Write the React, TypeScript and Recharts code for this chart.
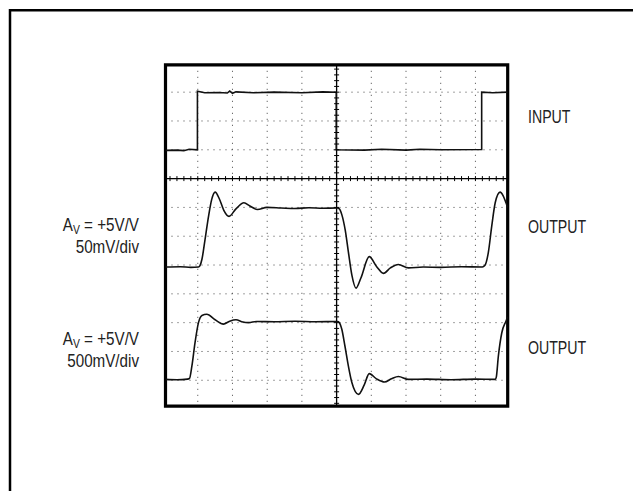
import React from 'react';
import {
  ComposedChart,
  Line,
  XAxis,
  YAxis,
  CartesianGrid,
  ReferenceLine,
  ReferenceArea,
  Scatter,
} from 'recharts';

// Screen divisions: time (horizontal, 10 div) and amplitude (vertical, 12 div)
const xDomain: [number, number] = [0.07, 9.93];
const yDomain: [number, number] = [0.1, 11.95];
const gridX = [1, 2, 3, 4, 5, 6, 7, 8, 9];
const gridY = [1, 2, 3, 4, 5, 6, 7, 8, 9, 10, 11];
const centerX = 5;
const centerY = 8;

// INPUT trace (divisions)
const inputTrace = [
  { t: 0.07, v: 8.98 }, { t: 0.4, v: 8.99 }, { t: 0.6, v: 8.97 }, { t: 0.75, v: 9.02 }, { t: 0.99, v: 9.0 },
  { t: 0.99, v: 11.03 }, { t: 1.2, v: 10.98 }, { t: 1.6, v: 10.99 }, { t: 1.85, v: 10.97 }, { t: 1.92, v: 11.04 },
  { t: 2.0, v: 10.96 }, { t: 2.1, v: 11.01 }, { t: 2.6, v: 10.98 }, { t: 3.2, v: 11.0 }, { t: 4.0, v: 10.98 },
  { t: 4.6, v: 11.01 }, { t: 4.99, v: 11.0 },
  { t: 4.99, v: 9.0 }, { t: 5.8, v: 8.99 }, { t: 6.3, v: 9.02 }, { t: 7.0, v: 8.99 }, { t: 7.4, v: 9.02 },
  { t: 8.0, v: 9.0 }, { t: 9.18, v: 9.01 },
  { t: 9.18, v: 11.0 }, { t: 9.5, v: 10.98 }, { t: 9.93, v: 11.0 },
];

// OUTPUT, 50mV/div
const output50mV = [
  { t: 0.07, v: 4.93 }, { t: 0.5, v: 4.94 }, { t: 0.8, v: 4.92 }, { t: 1.02, v: 4.93 },
  { t: 1.06, v: 4.97 }, { t: 1.12, v: 5.2 }, { t: 1.21, v: 5.89 }, { t: 1.31, v: 6.69 }, { t: 1.4, v: 7.27 },
  { t: 1.5, v: 7.53 }, { t: 1.62, v: 7.3 }, { t: 1.75, v: 6.9 }, { t: 1.9, v: 6.69 }, { t: 2.1, v: 6.95 },
  { t: 2.33, v: 7.16 }, { t: 2.5, v: 7.05 }, { t: 2.72, v: 6.93 }, { t: 2.99, v: 7.0 }, { t: 3.4, v: 6.98 },
  { t: 3.8, v: 6.96 }, { t: 4.2, v: 6.99 }, { t: 4.6, v: 6.97 }, { t: 5.02, v: 6.98 },
  { t: 5.08, v: 6.95 }, { t: 5.15, v: 6.75 }, { t: 5.25, v: 6.2 }, { t: 5.34, v: 5.45 }, { t: 5.44, v: 4.65 },
  { t: 5.56, v: 4.2 }, { t: 5.7, v: 4.55 }, { t: 5.94, v: 5.29 }, { t: 6.15, v: 4.95 }, { t: 6.35, v: 4.71 },
  { t: 6.55, v: 4.9 }, { t: 6.78, v: 5.02 }, { t: 7.07, v: 4.9 }, { t: 7.5, v: 4.93 }, { t: 8.0, v: 4.92 },
  { t: 8.6, v: 4.94 }, { t: 9.2, v: 4.93 },
  { t: 9.27, v: 4.98 }, { t: 9.37, v: 5.42 }, { t: 9.47, v: 6.35 }, { t: 9.57, v: 7.16 }, { t: 9.71, v: 7.53 },
  { t: 9.8, v: 7.4 }, { t: 9.88, v: 7.16 }, { t: 9.93, v: 7.0 },
];

// OUTPUT, 500mV/div
const output500mV = [
  { t: 0.07, v: 1.03 }, { t: 0.4, v: 1.02 }, { t: 0.7, v: 1.04 },
  { t: 0.76, v: 1.06 }, { t: 0.83, v: 1.49 }, { t: 0.92, v: 2.3 }, { t: 1.02, v: 3.0 }, { t: 1.12, v: 3.25 },
  { t: 1.26, v: 3.29 }, { t: 1.5, v: 3.1 }, { t: 1.74, v: 2.95 }, { t: 1.92, v: 3.05 }, { t: 2.1, v: 3.1 },
  { t: 2.3, v: 3.02 }, { t: 2.46, v: 3.0 }, { t: 2.7, v: 3.04 }, { t: 3.2, v: 3.03 }, { t: 3.8, v: 3.05 },
  { t: 4.4, v: 3.03 }, { t: 5.03, v: 3.04 },
  { t: 5.08, v: 3.0 }, { t: 5.15, v: 2.77 }, { t: 5.24, v: 2.19 }, { t: 5.34, v: 1.49 }, { t: 5.44, v: 0.92 },
  { t: 5.63, v: 0.51 }, { t: 5.8, v: 0.85 }, { t: 5.94, v: 1.23 }, { t: 6.15, v: 1.05 }, { t: 6.38, v: 0.94 },
  { t: 6.58, v: 1.05 }, { t: 6.78, v: 1.13 }, { t: 7.07, v: 1.03 }, { t: 7.6, v: 1.04 }, { t: 8.3, v: 1.02 },
  { t: 9.0, v: 1.04 }, { t: 9.57, v: 1.03 },
  { t: 9.6, v: 1.1 }, { t: 9.66, v: 1.83 }, { t: 9.76, v: 2.65 }, { t: 9.88, v: 3.05 }, { t: 9.93, v: 3.2 },
];

// minor graticule ticks on the centre axes (5 per division)
const hTicks = Array.from({ length: 49 }, (_, i) => ({ t: (i + 1) * 0.2, v: centerY }));
const vTicks = Array.from({ length: 59 }, (_, i) => ({ t: centerX, v: (i + 1) * 0.2 }));

const FONT = '"Liberation Sans", Arial, sans-serif';

const HTick = (p: any) => (
  <line x1={p.cx} x2={p.cx} y1={p.cy - 2.5} y2={p.cy + 2.5} stroke="#000" strokeWidth={1} />
);
const VTick = (p: any) => (
  <line x1={p.cx - 2.5} x2={p.cx + 2.5} y1={p.cy} y2={p.cy} stroke="#000" strokeWidth={1} />
);

const Txt = ({ x, y, s, anchor = 'start', children }: any) => (
  <text
    transform={`translate(${x},${y}) scale(${s},1)`}
    x={0}
    y={0}
    textAnchor={anchor}
    fontFamily={FONT}
    fontSize={19}
    fill="#222"
  >
    {children}
  </text>
);

const GainLabel = ({ y, scale }: { y: number; scale: string }) => (
  <>
    <Txt x={139} y={y} s={0.8} anchor="end">
      A<tspan fontSize={13} dy={2.5}>V</tspan>
      <tspan dy={-2.5}> = +5V/V</tspan>
    </Txt>
    <Txt x={139} y={y + 22} s={0.8} anchor="end">
      {scale}
    </Txt>
  </>
);

export default function App() {
  return (
    <div style={{ position: 'absolute', left: 0, top: 0, width: 633, height: 491, background: '#fff', overflow: 'hidden' }}>
      <ComposedChart
        width={633}
        height={491}
        margin={{ top: 64.8, right: 125.3, bottom: 84.8, left: 165.5 }}
      >
        <XAxis type="number" dataKey="t" domain={xDomain} allowDataOverflow hide ticks={gridX} />
        <YAxis type="number" dataKey="v" domain={yDomain} allowDataOverflow hide ticks={gridY} />
        <CartesianGrid
          stroke="#444"
          strokeWidth={1}
          strokeDasharray="1 5"
          horizontalValues={gridY}
          verticalValues={gridX}
        />
        <ReferenceLine x={centerX} stroke="#000" strokeWidth={1.3} />
        <ReferenceLine y={centerY} stroke="#000" strokeWidth={1.3} />
        <Scatter data={hTicks} shape={HTick} isAnimationActive={false} />
        <Scatter data={vTicks} shape={VTick} isAnimationActive={false} />
        <Line data={inputTrace} dataKey="v" type="linear" stroke="#111" strokeWidth={1.6} dot={false} isAnimationActive={false} />
        <Line data={output50mV} dataKey="v" type="monotone" stroke="#111" strokeWidth={1.6} dot={false} isAnimationActive={false} />
        <Line data={output500mV} dataKey="v" type="monotone" stroke="#111" strokeWidth={1.6} dot={false} isAnimationActive={false} />
        <ReferenceArea
          x1={xDomain[0]}
          x2={xDomain[1]}
          y1={yDomain[0]}
          y2={yDomain[1]}
          fill="none"
          stroke="#000"
          strokeWidth={3.2}
        />
      </ComposedChart>
      <svg
        width={633}
        height={491}
        style={{ position: 'absolute', left: 0, top: 0, pointerEvents: 'none' }}
      >
        <path d="M10,491 L10,10.2 L633,10.2" fill="none" stroke="#000" strokeWidth={2.5} />
        <Txt x={528} y={123} s={0.745}>INPUT</Txt>
        <Txt x={528} y={232.5} s={0.745}>OUTPUT</Txt>
        <Txt x={528} y={354} s={0.745}>OUTPUT</Txt>
        <GainLabel y={231} scale="50mV/div" />
        <GainLabel y={345} scale="500mV/div" />
      </svg>
    </div>
  );
}
